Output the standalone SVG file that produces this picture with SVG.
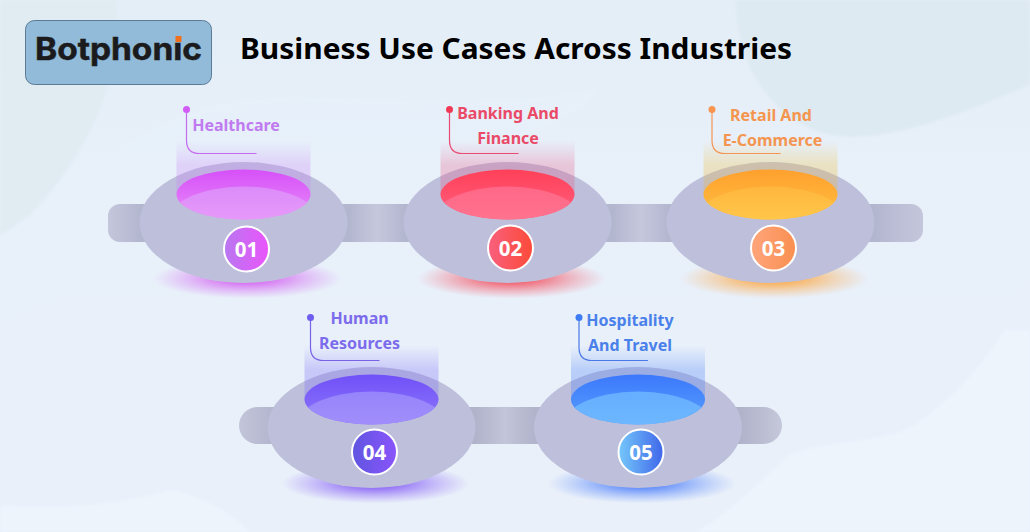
<svg xmlns="http://www.w3.org/2000/svg" width="1030" height="532" viewBox="0 0 1030 532">
<style>
.lbl{font:700 16px "Noto Sans","Open Sans",sans-serif;text-anchor:middle}
.num{font:700 20.5px "Noto Sans","Open Sans",sans-serif;fill:#fff;text-anchor:middle}
.base{fill:#bec0db}
.ring{stroke:#fff;stroke-width:2}
.lead{fill:none;stroke-width:1.2}
</style>
<defs>
<linearGradient id="bgG" x1="0" y1="0" x2="0" y2="1"><stop offset="0" stop-color="#e4eef7"/><stop offset=".35" stop-color="#e8f0fa"/><stop offset="1" stop-color="#e9f0fa"/></linearGradient>
<linearGradient id="bar1" gradientUnits="userSpaceOnUse" x1="108" y1="0" x2="923" y2="0">
<stop offset="0" stop-color="#c4c7db"/><stop offset=".04" stop-color="#b3b6cf"/>
<stop offset=".296" stop-color="#b3b6cf"/><stop offset=".33" stop-color="#c5c8dc"/><stop offset=".364" stop-color="#b3b6cf"/>
<stop offset=".62" stop-color="#b3b6cf"/><stop offset=".654" stop-color="#c5c8dc"/><stop offset=".688" stop-color="#b3b6cf"/>
<stop offset=".94" stop-color="#b3b6cf"/><stop offset="1" stop-color="#c4c7db"/></linearGradient>
<linearGradient id="bar2" gradientUnits="userSpaceOnUse" x1="239" y1="0" x2="782" y2="0">
<stop offset="0" stop-color="#c3c6da"/><stop offset=".055" stop-color="#b4b7ce"/>
<stop offset=".435" stop-color="#b0b3ca"/><stop offset=".49" stop-color="#c3c6d9"/><stop offset=".545" stop-color="#b0b3ca"/>
<stop offset=".925" stop-color="#b0b3ca"/><stop offset="1" stop-color="#c5c7da"/></linearGradient>
<filter id="soft" x="-20%" y="-20%" width="140%" height="140%"><feGaussianBlur stdDeviation="1.500"/></filter>
<clipPath id="pool"><ellipse cx="0" cy="0" rx="67" ry="25"/></clipPath>
<linearGradient id="h1" x1="0" y1="0" x2="0" y2="1"><stop offset="0" stop-color="#c77bf5" stop-opacity="0"/><stop offset=".45" stop-color="#c77bf5" stop-opacity=".26"/><stop offset="1" stop-color="#c77bf5" stop-opacity=".3"/></linearGradient>
<linearGradient id="h2" x1="0" y1="0" x2="0" y2="1"><stop offset="0" stop-color="#e8507f" stop-opacity="0"/><stop offset=".45" stop-color="#e8507f" stop-opacity=".26"/><stop offset="1" stop-color="#e8507f" stop-opacity=".3"/></linearGradient>
<linearGradient id="h3" x1="0" y1="0" x2="0" y2="1"><stop offset="0" stop-color="#f0c040" stop-opacity="0"/><stop offset=".45" stop-color="#eec040" stop-opacity=".3"/><stop offset="1" stop-color="#e8b040" stop-opacity=".3"/></linearGradient>
<linearGradient id="h4" x1="0" y1="0" x2="0" y2="1"><stop offset="0" stop-color="#7a6cf5" stop-opacity="0"/><stop offset=".45" stop-color="#7a6cf5" stop-opacity=".3"/><stop offset="1" stop-color="#7a6cf5" stop-opacity=".32"/></linearGradient>
<linearGradient id="h5" x1="0" y1="0" x2="0" y2="1"><stop offset="0" stop-color="#4a80f5" stop-opacity="0"/><stop offset=".45" stop-color="#4a80f5" stop-opacity=".3"/><stop offset="1" stop-color="#4a80f5" stop-opacity=".32"/></linearGradient>
<linearGradient id="p1" x1="0" y1="0" x2="0" y2="1"><stop offset="0" stop-color="#d650f8"/><stop offset="1" stop-color="#e88cf9"/></linearGradient>
<linearGradient id="q1" x1="0" y1="0" x2="0" y2="1"><stop offset="0" stop-color="#dc8cf9"/><stop offset="1" stop-color="#f5acfb"/></linearGradient>
<linearGradient id="p2" x1="0" y1="0" x2="0" y2="1"><stop offset="0" stop-color="#ff4058"/><stop offset="1" stop-color="#ff6080"/></linearGradient>
<linearGradient id="q2" x1="0" y1="0" x2="0" y2="1"><stop offset="0" stop-color="#ff6888"/><stop offset="1" stop-color="#ff8096"/></linearGradient>
<linearGradient id="p3" x1="0" y1="0" x2="0" y2="1"><stop offset="0" stop-color="#ffa02e"/><stop offset="1" stop-color="#ffc040"/></linearGradient>
<linearGradient id="q3" x1="0" y1="0" x2="0" y2="1"><stop offset="0" stop-color="#ffb73e"/><stop offset="1" stop-color="#ffdc58"/></linearGradient>
<linearGradient id="p4" x1="0" y1="0" x2="0" y2="1"><stop offset="0" stop-color="#7050f8"/><stop offset="1" stop-color="#8e78fb"/></linearGradient>
<linearGradient id="q4" x1="0" y1="0" x2="0" y2="1"><stop offset="0" stop-color="#9684fb"/><stop offset="1" stop-color="#b09cfb"/></linearGradient>
<linearGradient id="p5" x1="0" y1="0" x2="0" y2="1"><stop offset="0" stop-color="#3b78fc"/><stop offset="1" stop-color="#5aa0fd"/></linearGradient>
<linearGradient id="q5" x1="0" y1="0" x2="0" y2="1"><stop offset="0" stop-color="#66aeff"/><stop offset="1" stop-color="#76c4ff"/></linearGradient>
<linearGradient id="c1"><stop offset="0" stop-color="#b877f0"/><stop offset="1" stop-color="#ea55fb"/></linearGradient>
<linearGradient id="c2"><stop offset="0" stop-color="#f9607e"/><stop offset="1" stop-color="#fc4a38"/></linearGradient>
<linearGradient id="c3"><stop offset="0" stop-color="#ffa57c"/><stop offset="1" stop-color="#f98f50"/></linearGradient>
<linearGradient id="c4"><stop offset="0" stop-color="#5f55e0"/><stop offset="1" stop-color="#8a55fb"/></linearGradient>
<linearGradient id="c5"><stop offset="0" stop-color="#75c8fa"/><stop offset="1" stop-color="#3f66ea"/></linearGradient>
<radialGradient id="s1"><stop offset="0" stop-color="#d040f0" stop-opacity=".95"/><stop offset=".6" stop-color="#d050f0" stop-opacity=".35"/><stop offset="1" stop-color="#d060f0" stop-opacity="0"/></radialGradient>
<radialGradient id="s2"><stop offset="0" stop-color="#f53040" stop-opacity=".95"/><stop offset=".6" stop-color="#f54050" stop-opacity=".35"/><stop offset="1" stop-color="#f55060" stop-opacity="0"/></radialGradient>
<radialGradient id="s3"><stop offset="0" stop-color="#ff9a20" stop-opacity=".95"/><stop offset=".6" stop-color="#ffa030" stop-opacity=".35"/><stop offset="1" stop-color="#ffa040" stop-opacity="0"/></radialGradient>
<radialGradient id="s4"><stop offset="0" stop-color="#7040f5" stop-opacity=".95"/><stop offset=".6" stop-color="#7848f5" stop-opacity=".35"/><stop offset="1" stop-color="#8050f5" stop-opacity="0"/></radialGradient>
<radialGradient id="s5"><stop offset="0" stop-color="#2f68fa" stop-opacity=".95"/><stop offset=".6" stop-color="#3f74fa" stop-opacity=".35"/><stop offset="1" stop-color="#4f80fa" stop-opacity="0"/></radialGradient>
</defs>

<g id="background">
<rect width="1030" height="532" fill="url(#bgG)"/>
<path d="M0 236C60 200 110 140 200 110C300 80 420 120 600 90C500 180 300 170 0 320Z" fill="#e8f2fb" opacity=".6" filter="url(#soft)"/>
<path d="M0 0H116C124 70 95 145 30 215L0 236Z" fill="#e0ebf2" filter="url(#soft)"/>
<path d="M736 0H1030V85C960 115 900 137 850 137C790 137 735 80 736 0Z" fill="#deeaf2" filter="url(#soft)"/>
<path d="M1005 330C980 370 950 400 915 425C880 445 820 440 790 455C760 480 730 515 695 532H1030V330Z" fill="#edf4fc" filter="url(#soft)"/>
<path d="M0 505C60 510 120 505 170 490C200 495 235 515 250 532H0Z" fill="#edf4fc" filter="url(#soft)"/>
</g>

<g id="logo">
<rect x="25.500" y="20.500" width="186" height="64" rx="9" fill="#91bbd8" stroke="#5a7a96" stroke-width="1"/>
<text x="35" y="59.500" font-family="Inter,'Liberation Sans',sans-serif" font-weight="700" font-size="31" fill="#1b1b1e" stroke="#1b1b1e" stroke-width=".5" textLength="167" lengthAdjust="spacingAndGlyphs">Botphonic</text>
<rect x="173.500" y="31" width="10" height="11" fill="#91bbd8"/>
<rect x="175.500" y="36" width="6" height="6" fill="#f0701e"/>
</g>
<text id="title" x="240" y="59" font-family="'Noto Sans','Open Sans',sans-serif" font-weight="700" font-size="29" fill="#000" textLength="552" lengthAdjust="spacingAndGlyphs">Business Use Cases Across Industries</text>

<g id="connectors">
<rect x="108" y="204" width="815" height="38" rx="12" fill="url(#bar1)"/>
<rect x="239" y="407" width="543" height="37" rx="18.500" fill="url(#bar2)"/>
</g>

<g id="node-01" transform="translate(243.500 194.500)">
<ellipse cx="4" cy="84" rx="94" ry="20" fill="url(#s1)"/>
<ellipse class="base" cx="0" cy="28" rx="104" ry="60.500"/>
<rect x="-67" y="-54" width="134" height="54" fill="url(#h1)"/>
<ellipse rx="67" ry="25" fill="url(#p1)"/>
<g clip-path="url(#pool)"><ellipse cx="0" cy="32" rx="80" ry="40" fill="url(#q1)"/></g>
<path class="lead" stroke="#c56bf0" d="M-57 -85V-54Q-57 -41 -44 -41H13"/>
<circle cx="-57" cy="-85" r="3.500" fill="#d05cf5"/>
<circle class="ring" cx="3" cy="54.500" r="22.500" fill="url(#c1)"/>
<text class="num" x="3" y="62">01</text>
<text class="lbl" fill="#c07bf0" x="-7.500" y="-64">Healthcare</text>
</g>

<g id="node-02" transform="translate(507.500 194.500)">
<ellipse cx="4" cy="84" rx="94" ry="20" fill="url(#s2)"/>
<ellipse class="base" cx="0" cy="28" rx="104" ry="60.500"/>
<rect x="-67" y="-54" width="134" height="54" fill="url(#h2)"/>
<ellipse rx="67" ry="25" fill="url(#p2)"/>
<g clip-path="url(#pool)"><ellipse cx="0" cy="32" rx="80" ry="40" fill="url(#q2)"/></g>
<path class="lead" stroke="#e84a72" d="M-58 -85V-54Q-58 -41 -45 -41H11"/>
<circle cx="-58" cy="-85" r="3.500" fill="#f03a55"/>
<circle class="ring" cx="3" cy="53.500" r="22.500" fill="url(#c2)"/>
<text class="num" x="3" y="61">02</text>
<text class="lbl" fill="#ea4a68" x="0.500" y="-75.500">Banking And</text>
<text class="lbl" fill="#ea4a68" x="0.500" y="-50.500">Finance</text>
</g>

<g id="node-03" transform="translate(770.500 194.500)">
<ellipse cx="4" cy="84" rx="94" ry="20" fill="url(#s3)"/>
<ellipse class="base" cx="0" cy="28" rx="104" ry="60.500"/>
<rect x="-67" y="-54" width="134" height="54" fill="url(#h3)"/>
<ellipse rx="67" ry="25" fill="url(#p3)"/>
<g clip-path="url(#pool)"><ellipse cx="0" cy="32" rx="80" ry="40" fill="url(#q3)"/></g>
<path class="lead" stroke="#f49555" d="M-58.500 -85V-54Q-58.500 -41 -45.500 -41H10"/>
<circle cx="-58.500" cy="-85" r="3.500" fill="#f99550"/>
<circle class="ring" cx="3" cy="53.500" r="22.500" fill="url(#c3)"/>
<text class="num" x="3" y="61">03</text>
<text class="lbl" fill="#f49550" x="0.500" y="-74">Retail And</text>
<text class="lbl" fill="#f49550" x="2" y="-49">E-Commerce</text>
</g>

<g id="node-04" transform="translate(371.500 399.500)">
<ellipse cx="4" cy="84" rx="94" ry="20" fill="url(#s4)"/>
<ellipse class="base" cx="0" cy="28" rx="104" ry="60.500"/>
<rect x="-67" y="-54" width="134" height="54" fill="url(#h4)"/>
<ellipse rx="67" ry="25" fill="url(#p4)"/>
<g clip-path="url(#pool)"><ellipse cx="0" cy="32" rx="80" ry="40" fill="url(#q4)"/></g>
<path class="lead" stroke="#7a62e8" d="M-61 -82V-52Q-61 -39 -48 -39H8"/>
<circle cx="-61" cy="-82" r="3.500" fill="#6f5cf0"/>
<circle class="ring" cx="3" cy="52.500" r="22.500" fill="url(#c4)"/>
<text class="num" x="3" y="60">04</text>
<text class="lbl" fill="#7c6cec" x="-12" y="-76">Human</text>
<text class="lbl" fill="#7c6cec" x="-12" y="-51">Resources</text>
</g>

<g id="node-05" transform="translate(638 399.500)">
<ellipse cx="4" cy="84" rx="94" ry="20" fill="url(#s5)"/>
<ellipse class="base" cx="0" cy="28" rx="104" ry="60.500"/>
<rect x="-67" y="-54" width="134" height="54" fill="url(#h5)"/>
<ellipse rx="67" ry="25" fill="url(#p5)"/>
<g clip-path="url(#pool)"><ellipse cx="0" cy="32" rx="80" ry="40" fill="url(#q5)"/></g>
<path class="lead" stroke="#4a78e8" d="M-59 -82V-52Q-59 -39 -46 -39H10"/>
<circle cx="-59" cy="-82" r="3.500" fill="#3d7cf5"/>
<circle class="ring" cx="3" cy="52.500" r="22.500" fill="url(#c5)"/>
<text class="num" x="3" y="60">05</text>
<text class="lbl" fill="#4a80ea" x="-8" y="-73.500">Hospitality</text>
<text class="lbl" fill="#4a80ea" x="-8" y="-49">And Travel</text>
</g>
</svg>
